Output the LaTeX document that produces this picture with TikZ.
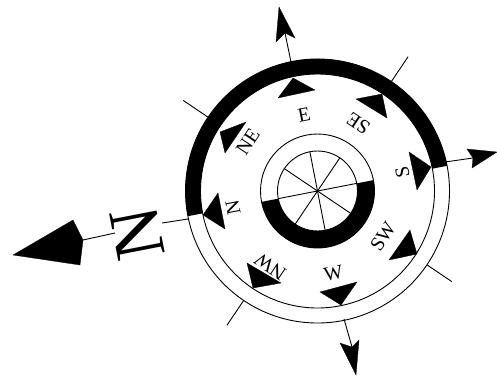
\documentclass[tikz,border=0pt]{standalone}
\usepackage{fontspec}
\setmainfont{Liberation Serif}
\tikzset{
  hair/.style={line width=0.9pt,black},
  head/.style={fill=black,draw=black,line width=0.3pt,line join=miter},
  lbl/.style={font=\fontsize{20}{20}\selectfont,inner sep=0pt,text=black},
}
\begin{document}
\begin{tikzpicture}[x=1pt,y=1pt]
\useasboundingbox (0,0) rectangle (497,-378);
\coordinate (c) at (317.5,-191);
\begin{scope}[shift={(c)}]
  % outer ring
  \draw[hair] (0,0) circle[radius=132];
  \draw[hair] (0,0) circle[radius=117];
  \fill[black] (11:132) arc[start angle=11,end angle=191,radius=132] -- (191:117) arc[start angle=191,end angle=11,radius=117] -- cycle;
  % inner ring
  \draw[hair] (0,0) circle[radius=57];
  \draw[hair] (0,0) circle[radius=40];
  \fill[black] (11:57) arc[start angle=11,end angle=-169,radius=57] -- (-169:40) arc[start angle=-169,end angle=11,radius=40] -- cycle;
  % spokes
  \foreach \a in {11,56,101,146,191,236,281,326}{
    \coordinate (hub\a) at (\a:40);
    \draw[hair] (0,0) -- (hub\a);
  }
  % ticks
  \foreach \a in {56,146,236,326}{
    \coordinate (ta\a) at (\a:132);
    \coordinate (tb\a) at (\a:162);
    \draw[hair] (ta\a) -- (tb\a);
  }
  % labels
  \node[lbl,rotate=11]  (lE)  at (100:77) {E};
  \node[lbl,rotate=146] (lSE) at (59:79) {SE};
  \node[lbl,rotate=56]  (lNE) at (145:85) {NE};
  \node[lbl,rotate=101] (lN)  at (191:86) {N};
  \node[lbl,rotate=146] (lNW) at (238:89) {NW};
  \node[lbl,rotate=11]  (lW)  at (281:83.5) {W};
  \node[lbl,rotate=56]  (lSW) at (325:80) {SW};
  \node[lbl,rotate=101] (lS)  at (12.6:87) {S};
\end{scope}
% ring triangles
\fill[head] (278,-98) -- (293,-78) -- (315,-90) -- cycle;
\fill[head] (356,-99) -- (382,-94) -- (387,-118) -- cycle;
\fill[head] (246,-122) -- (220,-132) -- (225,-153) -- cycle;
\fill[head] (218,-193) -- (203,-215) -- (225,-229) -- cycle;
\fill[head] (247,-263) -- (253,-288) -- (281,-283) -- cycle;
\fill[head] (320,-292) -- (357,-282) -- (341,-305) -- cycle;
\fill[head] (410,-230) -- (389,-260) -- (417,-254) -- cycle;
\fill[head] (409,-152) -- (431,-167) -- (417,-190) -- cycle;
% compass letter
\node[inner sep=0pt,text=black,font=\fontsize{72}{72}\selectfont,rotate=101] (big) at (137,-233) {N};
% axes
\coordinate (topA) at (291,-62);   \coordinate (topB) at (285,-33);
\coordinate (botA) at (344,-319);  \coordinate (botB) at (352,-347);
\coordinate (rgtA) at (445,-162);  \coordinate (rgtB) at (473,-158);
\coordinate (lftA) at (188,-219);  \coordinate (lftB) at (162,-223);
\coordinate (lftC) at (115,-233);  \coordinate (lftD) at (83,-240);
\draw[hair] (topA) -- (topB);
\draw[hair] (botA) -- (botB);
\draw[hair] (rgtA) -- (rgtB);
\draw[hair] (lftA) -- (lftB);
\draw[hair] (lftC) -- (lftD);
\fill[head] (279,-7) -- (276,-42) -- (topB) -- (295,-38) -- cycle;
\fill[head] (356,-375) -- (340,-343) -- (botB) -- (359,-340) -- cycle;
\fill[head] (497,-152) -- (467,-149) -- (rgtB) -- (472,-168) -- cycle;
\fill[head] (13,-255) -- (73,-220) -- (lftD) -- (80,-265) -- cycle;
\end{tikzpicture}
\end{document}
